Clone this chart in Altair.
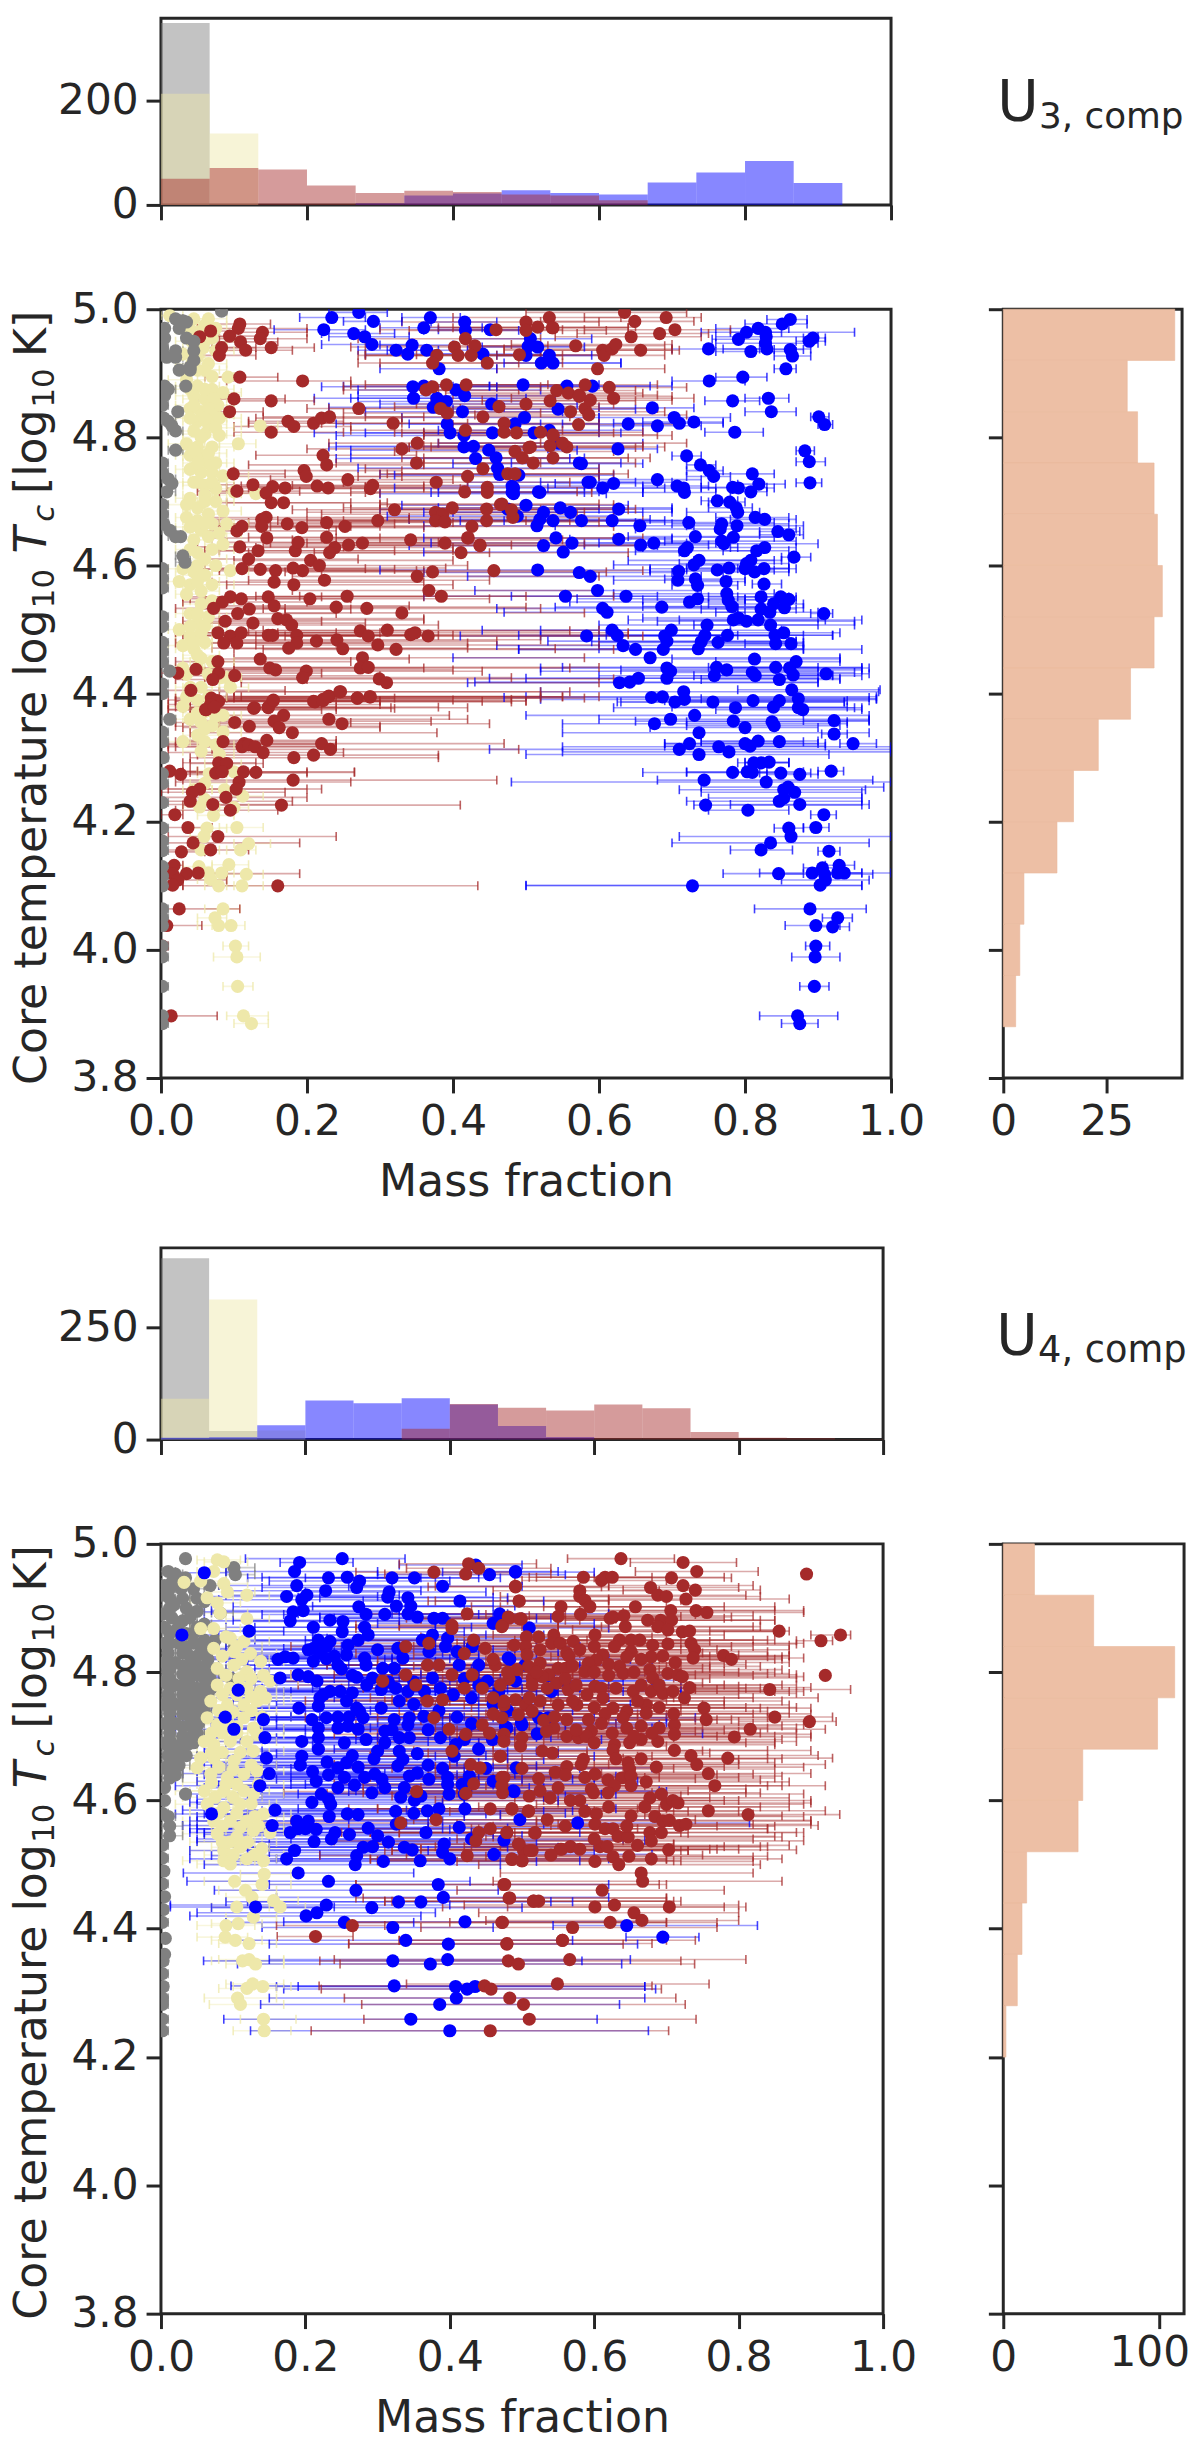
import altair as alt
import pandas as pd

DARK = "#262626"
FONT = "DejaVu Sans"
COLORS = {"gray": "#808080", "yellow": "#eee8aa", "blue": "#0000ff", "brown": "#a52a2a"}
MASS_TICKS = [0.0, 0.2, 0.4, 0.6, 0.8, 1.0]
TEMP_TICKS = [3.8, 4.0, 4.2, 4.4, 4.6, 4.8, 5.0]

# ---------- histogram counts (15 mass bins) ----------
A_HIST_GRAY = [349, 0, 0, 0, 0, 0, 0, 0, 0, 0, 0, 0, 0, 0, 0]
A_HIST_YELLOW = [213, 137, 0, 0, 0, 0, 0, 0, 0, 0, 0, 0, 0, 0, 0]
A_HIST_BROWN = [50, 71, 68, 37, 23, 27, 25, 20, 18, 9, 0, 0, 0, 0, 0]
A_HIST_BLUE = [0, 0, 0, 0, 3, 18, 22, 28, 23, 20, 43, 62, 84, 42, 0]
B_HIST_GRAY = [404, 19, 0, 0, 0, 0, 0, 0, 0, 0, 0, 0, 0, 0, 0]
B_HIST_YELLOW = [91, 312, 20, 0, 0, 0, 0, 0, 0, 0, 0, 0, 0, 0, 0]
B_HIST_BROWN = [0, 0, 0, 0, 0, 24, 79, 71, 65, 78, 70, 17, 4, 3, 1]
B_HIST_BLUE = [4, 5, 32, 87, 81, 92, 78, 30, 6, 0, 0, 0, 0, 0, 0]
# ---------- temperature histograms: bin tops from 5.0 downwards, width 0.08 ----------
A_TEMP_COUNTS = [41.5, 30, 32.5, 36.5, 37.3, 38.5, 36.5, 30.8, 23, 17, 13, 5, 4, 3]
B_TEMP_COUNTS = [20, 58, 110, 99, 51, 48, 15, 12, 9, 1.7]

# ---------- (mass, log T, lower end, upper end) ----------
A_BLUE = [
(.862,4.984,.83,.885),(.851,4.977,.80,.885),(.818,4.97,.76,.86),(.802,4.964,.74,.85),(.828,4.964,.78,.95),(.829,4.957,.76,.90),
(.791,4.953,.755,.83),(.828,4.947,.76,.90),(.83,4.938,.77,.89),(.75,4.938,.70,.82),(.808,4.934,.76,.87),(.862,4.937,.84,.88),
(.865,4.927,.84,.89),(.893,4.955,.88,.91),(.888,4.95,.87,.91),(.856,4.907,.84,.87),(.751,4.888,.70,.80),(.797,4.894,.76,.83),
(.783,4.857,.745,.82),(.832,4.861,.80,.86),(.836,4.84,.80,.87),(.901,4.832,.89,.915),(.909,4.82,.90,.92),(.786,4.808,.745,.825),
(.73,4.824,.66,.77),(.71,4.822,.62,.77),(.703,4.831,.60,.78),(.68,4.818,.60,.74),(.64,4.821,.55,.71),(.673,4.846,.60,.73),
(.626,4.782,.53,.68),(.72,4.771,.70,.74),(.882,4.779,.87,.895),(.888,4.762,.87,.91),(.889,4.729,.87,.905),(.739,4.757,.72,.76),
(.751,4.748,.72,.77),(.757,4.739,.72,.78),(.81,4.743,.76,.84),(.819,4.727,.79,.855),(.68,4.734,.60,.74),(.707,4.724,.66,.75),
(.716,4.721,.66,.76),(.717,4.714,.66,.76),(.783,4.722,.74,.83),(.791,4.721,.74,.84),(.808,4.715,.78,.83),(.62,4.728,.54,.68),
(.605,4.721,.53,.69),(.585,4.73,.52,.65),(.517,4.715,.42,.60),(.481,4.724,.38,.58),(.481,4.714,.38,.58),(.573,4.76,.48,.63),
(.234,4.987,.19,.28),(.271,4.995,.23,.31),(.291,4.981,.25,.33),(.223,4.968,.155,.28),(.264,4.962,.22,.32),(.279,4.957,.23,.34),
(.289,4.945,.22,.35),(.322,4.936,.27,.38),(.338,4.93,.28,.40),(.344,4.944,.30,.40),(.364,4.936,.31,.42),(.369,4.987,.33,.41),
(.36,4.971,.30,.44),(.416,4.98,.37,.46),(.417,4.967,.36,.49),(.451,4.968,.38,.52),(.381,4.907,.30,.46),(.441,4.93,.37,.52),
(.506,4.954,.42,.59),(.503,4.942,.43,.57),(.516,4.941,.44,.58),(.5,4.928,.43,.59),(.521,4.916,.44,.63),(.532,4.928,.46,.61),
(.537,4.916,.47,.63),(.345,4.879,.22,.46),(.346,4.861,.21,.46),(.36,4.88,.25,.45),(.378,4.861,.26,.50),(.391,4.856,.27,.50),
(.373,4.847,.23,.47),(.404,4.874,.27,.52),(.416,4.865,.27,.54),(.413,4.84,.28,.55),(.496,4.882,.37,.60),(.556,4.88,.40,.67),
(.591,4.88,.45,.70),(.453,4.852,.30,.57),(.544,4.844,.40,.65),(.498,4.831,.33,.60),(.485,4.821,.34,.60),(.392,4.821,.24,.52),
(.396,4.807,.21,.51),(.454,4.807,.28,.60),(.511,4.807,.36,.63),(.532,4.811,.38,.66),(.415,4.803,.24,.54),(.415,4.785,.23,.55),
(.428,4.786,.24,.55),(.449,4.78,.26,.57),(.459,4.768,.26,.58),(.431,4.767,.24,.56),(.461,4.752,.27,.60),(.464,4.742,.30,.60),
(.49,4.741,.32,.62),(.545,4.791,.38,.66),(.576,4.759,.40,.66),(.588,4.73,.42,.70),(.483,4.721,.32,.60),(.483,4.712,.30,.61),
(.519,4.714,.37,.66),(.5,4.694,.33,.64),(.475,4.688,.30,.60),(.488,4.677,.31,.62),(.524,4.683,.36,.66),(.515,4.662,.36,.66),
(.519,4.672,.34,.67),(.537,4.67,.37,.69),(.547,4.69,.38,.70),(.561,4.683,.40,.70),(.576,4.67,.41,.72),(.541,4.643,.36,.70),
(.524,4.631,.34,.68),(.563,4.635,.37,.72),(.551,4.621,.36,.71),(.516,4.593,.30,.67),(.573,4.589,.36,.70),(.588,4.583,.42,.74),
(.598,4.561,.43,.74),(.637,4.552,.48,.78),(.554,4.552,.36,.68),(.605,4.533,.46,.79),(.611,4.527,.47,.80),(.686,4.535,.54,.86),
(.724,4.543,.56,.80),(.735,4.548,.57,.80),(.775,4.556,.62,.84),(.777,4.546,.66,.82),(.782,4.536,.66,.86),(.822,4.551,.75,.86),
(.849,4.551,.79,.87),(.86,4.547,.80,.87),(.839,4.54,.75,.88),(.854,4.534,.79,.88),(.822,4.532,.74,.87),(.834,4.527,.76,.90),
(.908,4.525,.89,.92),(.784,4.515,.64,.96),(.791,4.518,.66,.90),(.802,4.513,.68,.95),(.818,4.515,.71,.91),(.835,4.507,.73,.95),
(.748,4.507,.60,.90),(.618,4.499,.44,.78),(.625,4.491,.49,.79),(.583,4.49,.41,.75),(.699,4.499,.52,.85),(.69,4.49,.52,.86),
(.693,4.482,.53,.87),(.745,4.491,.60,.88),(.74,4.481,.59,.87),(.736,4.47,.60,.88),(.776,4.491,.61,.92),(.763,4.48,.60,.88),
(.853,4.495,.78,.93),(.841,4.491,.74,.92),(.842,4.478,.74,.88),(.863,4.478,.80,.87),(.633,4.475,.46,.88),(.65,4.469,.49,.96),
(.688,4.469,.49,.88),(.67,4.456,.40,.93),(.693,4.44,.52,.96),(.698,4.435,.52,.90),(.693,4.424,.50,.93),(.628,4.417,.42,.90),
(.642,4.418,.43,.90),(.654,4.424,.45,.90),(.761,4.441,.55,.96),(.775,4.437,.63,.96),(.758,4.428,.60,.92),(.813,4.454,.70,.93),
(.81,4.433,.70,.95),(.814,4.428,.73,.96),(.842,4.441,.75,.90),(.847,4.422,.74,.93),(.861,4.44,.76,.97),(.87,4.45,.76,.93),
(.866,4.429,.76,.92),(.911,4.431,.87,.97),(.864,4.406,.79,.985),(.716,4.403,.52,.983),(.672,4.394,.47,.97),(.687,4.395,.50,.98),
(.717,4.391,.52,.98),(.704,4.387,.63,.936),(.756,4.387,.625,.936),(.811,4.389,.69,.97),(.847,4.389,.70,.94),(.839,4.379,.70,.94),
(.873,4.392,.74,.98),(.873,4.378,.78,.96),(.879,4.375,.76,.96),(.787,4.378,.62,.95),(.731,4.366,.50,.97),(.698,4.36,.60,.97),
(.676,4.353,.55,.94),(.784,4.357,.65,.97),(.80,4.347,.67,.90),(.837,4.356,.72,.94),(.84,4.35,.72,.93),(.922,4.358,.88,.97),
(.737,4.339,.55,.97),(.922,4.337,.905,.94),(.724,4.322,.69,.91),(.71,4.313,.45,1.0),(.764,4.317,.55,1.0),(.778,4.309,.55,1.0),
(.737,4.305,.50,.915),(.80,4.322,.69,.90),(.818,4.326,.74,.90),(.807,4.318,.69,.91),(.847,4.325,.74,.88),(.948,4.322,.93,.98),
(.812,4.292,.79,.86),(.822,4.292,.80,.86),(.833,4.293,.80,.86),(.783,4.277,.66,.85),(.803,4.278,.72,.88),(.81,4.277,.72,.83),
(.849,4.276,.82,.89),(.875,4.274,.83,.90),(.918,4.279,.90,.935),(.744,4.265,.68,.975),(.829,4.262,.48,1.0),(.853,4.25,.71,.965),
(.859,4.254,.74,.99),(.868,4.246,.74,.96),(.853,4.237,.75,.96),(.847,4.232,.72,.96),(.746,4.226,.73,.96),(.804,4.218,.75,.86),
(.875,4.227,.78,.97),(.908,4.211,.89,.925),(.86,4.19,.84,.88),(.897,4.191,.88,.915),(.863,4.177,.71,1.0),(.835,4.167,.70,.97),
(.822,4.156,.78,.865),(.915,4.154,.90,.93),(.846,4.119,.77,.88),(.892,4.12,.82,.96),(.906,4.128,.88,.93),(.929,4.132,.91,.95),
(.936,4.12,.92,1.0),(.927,4.12,.89,.96),(.909,4.118,.85,.975),(.91,4.109,.85,.97),(.903,4.101,.50,.96),(.728,4.1,.50,.96),
(.889,4.064,.813,.966),(.927,4.05,.906,.947),(.897,4.038,.855,.93),(.92,4.036,.90,.943),(.897,4.006,.883,.916),(.896,3.989,.864,.93),
(.895,3.943,.875,.915),(.872,3.897,.82,.927),(.875,3.885,.85,.90),
(.762,4.701,.74,.79),(.779,4.699,.75,.80),(.788,4.69,.75,.81),(.79,4.683,.72,.82),(.627,4.688,.55,.70),(.618,4.67,.47,.72),
(.656,4.662,.54,.73),(.723,4.667,.65,.84),(.768,4.665,.70,.86),(.766,4.657,.65,.87),(.789,4.662,.72,.88),(.814,4.675,.76,.86),
(.827,4.672,.78,.87),(.845,4.653,.82,.875),(.86,4.648,.82,.88),(.732,4.645,.64,.86),(.768,4.638,.69,.87),(.784,4.644,.73,.84),
(.771,4.634,.66,.90),(.627,4.641,.56,.70),(.657,4.632,.58,.75),(.675,4.635,.60,.76),(.717,4.623,.65,.81),(.721,4.628,.66,.79),
(.816,4.623,.77,.86),(.827,4.628,.78,.87),(.867,4.613,.85,.89),(.808,4.608,.73,.85),(.802,4.603,.71,.86),(.80,4.595,.67,.87),
(.737,4.608,.64,.84),(.73,4.601,.62,.80),(.709,4.591,.67,.76),(.762,4.593,.72,.84),(.778,4.596,.72,.86),(.826,4.595,.79,.86),
(.813,4.59,.77,.86),(.708,4.577,.62,.78),(.732,4.579,.69,.80),(.735,4.569,.70,.79),(.774,4.575,.73,.80),(.826,4.571,.81,.85),
]
A_BROWN = [
(.108,4.977,.07,.15),(.106,4.97,.05,.20),(.139,4.964,.10,.20),(.136,4.954,.08,.20),(.094,4.958,.05,.14),(.109,4.949,.07,.16),
(.116,4.936,.07,.18),(.151,4.94,.08,.21),(.083,4.94,.05,.13),(.08,4.928,.04,.13),(.068,4.966,.04,.10),(.053,4.957,.03,.09),
(.108,4.894,.06,.16),(.194,4.888,.09,.26),(.10,4.86,.05,.17),(.151,4.857,.10,.21),(.094,4.84,.05,.14),(.174,4.825,.12,.25),
(.182,4.817,.10,.26),(.209,4.822,.12,.33),(.22,4.83,.13,.33),(.231,4.832,.14,.36),(.151,4.808,.10,.25),(.271,4.845,.20,.38),
(.318,4.822,.22,.42),(.222,4.772,.13,.35),(.227,4.757,.12,.36),(.196,4.748,.10,.33),(.199,4.739,.08,.33),(.256,4.734,.15,.40),
(.214,4.724,.11,.36),(.229,4.721,.12,.36),(.29,4.725,.18,.42),(.287,4.72,.17,.41),(.377,4.73,.25,.56),(.42,4.739,.27,.60),
(.441,4.751,.28,.60),(.35,4.76,.24,.52),(.33,4.782,.20,.50),(.351,4.791,.23,.52),(.099,4.743,.05,.17),(.126,4.726,.06,.21),
(.104,4.716,.05,.19),(.153,4.723,.10,.28),(.17,4.721,.09,.29),(.144,4.713,.08,.30),(.151,4.698,.08,.26),(.168,4.698,.09,.31),
(.144,4.675,.07,.34),(.138,4.672,.06,.34),(.138,4.661,.06,.30),(.173,4.665,.08,.32),(.193,4.659,.10,.36),(.227,4.667,.12,.40),
(.252,4.661,.15,.42),(.297,4.67,.16,.50),(.32,4.687,.18,.52),(.376,4.683,.20,.58),(.386,4.68,.22,.57),(.399,4.69,.25,.62),
(.376,4.67,.20,.56),(.389,4.668,.22,.60),(.446,4.688,.26,.65),(.446,4.67,.25,.66),(.426,4.661,.23,.62),(.342,4.64,.18,.55),
(.389,4.635,.20,.58),(.421,4.643,.22,.62),(.437,4.632,.24,.66),(.411,4.62,.21,.64),(.104,4.654,.05,.24),(.111,4.661,.04,.26),
(.145,4.643,.07,.30),(.108,4.629,.05,.25),(.133,4.623,.06,.32),(.184,4.623,.08,.40),(.188,4.636,.09,.38),(.227,4.644,.12,.42),
(.238,4.628,.13,.40),(.231,4.62,.12,.45),(.257,4.632,.14,.48),(.276,4.635,.15,.52),(.12,4.61,.06,.27),(.111,4.595,.05,.28),
(.136,4.594,.06,.32),(.205,4.608,.10,.40),(.217,4.60,.12,.42),(.157,4.592,.08,.35),(.181,4.596,.08,.39),(.194,4.592,.09,.36),
(.155,4.574,.07,.36),(.182,4.57,.09,.40),(.224,4.577,.12,.45),(.351,4.583,.18,.60),(.372,4.59,.17,.61),(.456,4.592,.22,.66),
(.367,4.561,.18,.60),(.384,4.552,.19,.62),(.255,4.552,.13,.50),(.204,4.548,.09,.45),(.147,4.551,.06,.36),(.155,4.537,.08,.34),
(.24,4.535,.12,.50),(.282,4.533,.14,.52),(.33,4.526,.17,.58),(.095,4.551,.03,.22),(.11,4.548,.04,.26),(.084,4.543,.03,.20),
(.072,4.533,.02,.17),(.105,4.525,.04,.24),(.121,4.532,.05,.26),(.088,4.513,.03,.22),(.126,4.51,.05,.28),(.16,4.517,.07,.36),
(.172,4.515,.08,.36),(.179,4.507,.08,.38),(.078,4.495,.02,.24),(.095,4.49,.03,.28),(.11,4.495,.04,.30),(.086,4.479,.02,.24),
(.104,4.479,.04,.30),(.147,4.491,.05,.36),(.153,4.491,.06,.38),(.186,4.491,.08,.40),(.186,4.479,.08,.42),(.175,4.471,.07,.42),
(.213,4.482,.09,.46),(.241,4.484,.10,.52),(.249,4.47,.10,.54),(.273,4.498,.12,.56),(.284,4.49,.13,.58),(.297,4.476,.13,.60),
(.322,4.469,.14,.62),(.31,4.499,.14,.60),(.342,4.492,.16,.64),(.348,4.495,.16,.64),(.366,4.49,.17,.66),(.276,4.456,.10,.58),
(.273,4.44,.10,.56),(.284,4.441,.10,.60),(.136,4.454,.05,.34),(.149,4.44,.05,.36),(.157,4.437,.05,.40),(.199,4.435,.06,.44),
(.194,4.425,.06,.48),(.299,4.423,.11,.62),(.309,4.417,.11,.60),(.078,4.45,.02,.26),(.079,4.432,.02,.22),(.071,4.422,.02,.20),
(.101,4.428,.03,.30),(.048,4.438,.01,.15),(.023,4.432,.00,.10),(.041,4.405,.00,.17),(.246,4.403,.08,.56),(.23,4.396,.07,.52),
(.269,4.393,.09,.58),(.286,4.395,.10,.60),(.153,4.388,.04,.44),(.147,4.378,.04,.42),(.209,4.388,.06,.50),(.222,4.391,.07,.48),
(.07,4.39,.01,.24),(.079,4.388,.02,.30),(.062,4.375,.01,.22),(.127,4.377,.03,.32),(.069,4.393,.02,.32),(.077,4.389,.02,.30),
(.068,4.383,.01,.30),(.061,4.375,.01,.24),(.073,4.379,.02,.24),(.128,4.378,.03,.315),(.147,4.379,.05,.38),(.154,4.39,.05,.40),
(.211,4.387,.07,.48),(.222,4.389,.08,.50),(.229,4.395,.09,.55),(.245,4.403,.10,.52),(.269,4.393,.10,.52),(.287,4.395,.11,.55),
(.168,4.366,.04,.395),(.155,4.357,.04,.37),(.162,4.347,.03,.30),(.101,4.355,.02,.26),(.121,4.349,.02,.30),(.18,4.339,.04,.378),
(.23,4.36,.07,.42),(.248,4.353,.08,.45),(.085,4.325,.02,.22),(.114,4.322,.01,.24),(.111,4.317,.02,.24),(.12,4.32,.01,.24),
(.129,4.317,.01,.24),(.14,4.308,.01,.25),(.145,4.327,.03,.24),(.22,4.322,.06,.47),(.232,4.313,.07,.49),(.209,4.304,.05,.38),
(.182,4.30,.04,.38),(.079,4.292,.03,.13),(.09,4.291,.04,.14),(.012,4.279,.00,.05),(.027,4.274,.00,.07),(.075,4.276,.03,.20),
(.084,4.278,.03,.20),(.113,4.278,.03,.265),(.13,4.277,.04,.265),(.181,4.265,.03,.46),(.107,4.262,.02,.26),(.103,4.251,.01,.22),
(.053,4.251,.00,.20),(.043,4.246,.00,.17),(.04,4.232,.00,.18),(.089,4.238,.00,.20),(.071,4.227,.00,.17),(.095,4.218,.02,.16),
(.165,4.226,.03,.41),(.019,4.211,.00,.03),(.037,4.191,.00,.07),(.078,4.177,.01,.24),(.044,4.167,.00,.19),(.068,4.156,.00,.12),
(.028,4.153,.00,.06),(.018,4.132,.00,.03),(.016,4.119,.00,.04),(.035,4.119,.00,.19),(.051,4.12,.00,.09),(.023,4.109,.00,.09),
(.016,4.101,.00,.03),(.16,4.10,.03,.434),(.025,4.064,.00,.108),(.008,4.038,.00,.056),(.014,3.897,.00,.077),(.002,4.006,.00,.01),
(.459,4.968,.30,.55),(.50,4.98,.33,.60),(.50,4.967,.34,.61),(.516,4.972,.36,.65),(.532,4.987,.40,.63),(.537,4.971,.38,.64),
(.417,4.954,.27,.52),(.402,4.941,.26,.50),(.43,4.943,.28,.53),(.407,4.928,.28,.52),(.425,4.928,.27,.55),(.378,4.928,.28,.50),
(.372,4.916,.27,.49),(.447,4.916,.30,.55),(.491,4.929,.35,.60),(.568,4.943,.42,.69),(.363,4.874,.25,.49),(.372,4.879,.25,.52),
(.391,4.882,.26,.53),(.418,4.882,.28,.56),(.542,4.873,.38,.65),(.558,4.869,.39,.66),(.573,4.866,.40,.68),(.581,4.882,.42,.68),
(.50,4.852,.35,.62),(.463,4.848,.32,.60),(.533,4.857,.37,.65),(.383,4.845,.23,.50),(.392,4.838,.25,.52),(.441,4.832,.28,.56),
(.561,4.84,.40,.69),(.581,4.845,.41,.68),(.586,4.835,.43,.72),(.47,4.822,.32,.60),(.417,4.811,.26,.55),(.47,4.808,.32,.60),
(.487,4.807,.33,.62),(.52,4.808,.36,.66),(.537,4.804,.36,.68),(.572,4.82,.40,.71),(.506,4.785,.34,.66),(.533,4.787,.36,.66),
(.556,4.785,.37,.69),(.485,4.778,.32,.62),(.495,4.768,.33,.64),(.537,4.768,.36,.67),(.51,4.76,.36,.65),(.475,4.743,.30,.62),
(.485,4.743,.31,.64),(.416,4.715,.26,.57),(.447,4.722,.28,.59),(.447,4.714,.28,.59),(.467,4.696,.30,.60),(.482,4.675,.30,.62),
(.635,4.995,.50,.72),(.649,4.981,.52,.73),(.692,4.987,.58,.74),(.704,4.968,.58,.78),(.644,4.957,.54,.74),(.683,4.962,.57,.75),
(.536,4.971,.40,.64),(.605,4.936,.47,.70),(.607,4.928,.46,.69),(.618,4.938,.47,.70),(.623,4.945,.48,.70),(.657,4.936,.52,.71),
(.598,4.907,.46,.69),(.614,4.878,.46,.72),(.62,4.861,.48,.73),(.588,4.858,.44,.70),(.573,4.864,.42,.70),(.537,4.803,.36,.70),
(.55,4.791,.38,.72),(.504,4.784,.34,.65),(.42,4.643,.24,.66),(.437,4.631,.24,.66),(.465,4.695,.30,.62),(.48,4.687,.30,.64),
]
A_YELLOW = [
(.012,4.99,.00,.03),(.045,4.985,.02,.07),(.06,4.975,.03,.09),(.052,4.965,.03,.08),(.07,4.955,.04,.10),(.042,4.95,.02,.07),
(.058,4.94,.03,.09),(.03,4.93,.01,.06),(.05,4.925,.02,.08),(.065,4.915,.04,.09),(.06,4.905,.03,.09),(.092,4.894,.07,.11),
(.035,4.89,.01,.06),(.05,4.88,.02,.08),(.07,4.875,.04,.10),(.085,4.87,.06,.11),(.045,4.865,.02,.08),(.06,4.86,.03,.09),
(.078,4.85,.05,.10),(.04,4.845,.02,.07),(.055,4.84,.03,.08),(.07,4.835,.04,.10),(.08,4.83,.05,.11),(.05,4.825,.03,.08),
(.065,4.82,.04,.09),(.136,4.818,.11,.16),(.045,4.81,.02,.08),(.06,4.805,.03,.09),(.08,4.803,.06,.11),(.106,4.79,.08,.13),
(.035,4.79,.01,.06),(.05,4.785,.03,.08),(.07,4.785,.04,.10),(.04,4.772,.02,.07),(.055,4.77,.03,.08),(.065,4.76,.04,.09),
(.04,4.75,.02,.07),(.055,4.745,.03,.08),(.07,4.745,.04,.10),(.085,4.74,.05,.12),(.045,4.73,.02,.08),(.06,4.725,.03,.09),
(.075,4.72,.05,.10),(.10,4.715,.07,.13),(.06,4.71,.03,.09),(.13,4.712,.11,.15),(.035,4.695,.01,.06),(.05,4.69,.03,.08),
(.065,4.68,.04,.09),(.085,4.685,.06,.11),(.035,4.675,.02,.06),(.05,4.67,.03,.08),(.07,4.665,.04,.10),(.09,4.665,.07,.12),
(.055,4.655,.03,.08),(.065,4.645,.04,.09),(.045,4.64,.02,.07),(.085,4.633,.06,.11),(.05,4.62,.03,.08),(.06,4.61,.03,.09),
(.03,4.595,.01,.06),(.045,4.59,.02,.07),(.06,4.585,.03,.09),(.095,4.592,.07,.12),(.025,4.575,.01,.05),(.04,4.57,.02,.07),
(.055,4.56,.03,.08),(.035,4.555,.02,.06),(.055,4.54,.03,.08),(.07,4.545,.04,.10),(.04,4.525,.02,.07),(.05,4.51,.03,.08),
(.065,4.52,.04,.09),(.025,4.5,.01,.05),(.04,4.49,.02,.07),(.055,4.495,.03,.08),(.03,4.475,.01,.06),(.045,4.47,.02,.07),
(.06,4.48,.03,.09),(.055,4.455,.03,.08),(.03,4.44,.01,.06),(.05,4.44,.02,.08),(.065,4.43,.04,.09),(.035,4.43,.02,.06),
(.082,4.425,.06,.11),(.09,4.425,.07,.11),(.095,4.41,.08,.12),(.035,4.395,.02,.06),(.05,4.39,.03,.08),(.03,4.38,.01,.06),
(.06,4.372,.04,.08),(.085,4.366,.06,.11),(.04,4.36,.02,.07),(.055,4.355,.03,.08),(.07,4.35,.04,.10),(.085,4.34,.06,.11),
(.05,4.335,.03,.08),(.03,4.325,.01,.05),(.06,4.325,.04,.09),(.075,4.32,.05,.10),(.055,4.31,.03,.08),(.08,4.305,.06,.10),
(.085,4.29,.06,.11),(.078,4.28,.05,.10),(.10,4.278,.08,.13),(.066,4.275,.05,.09),(.06,4.26,.04,.09),(.045,4.25,.03,.07),
(.087,4.25,.07,.11),(.06,4.235,.04,.09),(.112,4.24,.09,.14),(.053,4.223,.03,.08),(.10,4.222,.08,.12),(.072,4.21,.05,.10),
(.063,4.19,.04,.09),(.104,4.191,.08,.14),(.059,4.177,.04,.08),(.12,4.166,.10,.15),(.055,4.156,.03,.08),(.109,4.156,.09,.13),
(.052,4.13,.03,.07),(.093,4.133,.07,.12),(.065,4.12,.05,.09),(.068,4.11,.05,.09),(.083,4.12,.06,.10),(.117,4.118,.09,.14),
(.079,4.1,.06,.10),(.111,4.10,.09,.14),(.085,4.064,.06,.108),(.074,4.05,.05,.09),(.079,4.038,.05,.10),(.096,4.038,.07,.115),
(.102,4.006,.085,.12),(.104,3.989,.072,.136),(.105,3.943,.085,.126),(.113,3.897,.09,.147),(.124,3.885,.10,.147),
(.065,4.985,.04,.09),(.075,4.97,.05,.10),(.04,4.968,.02,.07),(.06,4.95,.04,.09),(.075,4.935,.05,.10),(.042,4.915,.02,.07),
(.05,4.905,.03,.08),(.07,4.895,.05,.10),(.04,4.875,.02,.07),(.06,4.875,.04,.09),(.072,4.86,.05,.10),(.045,4.85,.02,.07),
(.065,4.845,.04,.09),(.04,4.83,.02,.07),(.06,4.83,.04,.09),(.075,4.815,.05,.10),(.055,4.8,.03,.08),(.045,4.78,.02,.07),
(.065,4.775,.04,.09),(.05,4.76,.03,.08),(.075,4.76,.05,.10),(.05,4.73,.03,.08),(.07,4.73,.04,.10),(.04,4.705,.02,.07),
(.06,4.7,.04,.09),(.075,4.7,.05,.10),(.04,4.66,.02,.07),(.06,4.665,.04,.09),(.08,4.65,.05,.11),(.04,4.625,.02,.07),
(.07,4.625,.04,.10),(.05,4.6,.03,.08),(.075,4.6,.05,.10),(.05,4.575,.03,.08),(.07,4.57,.04,.10),(.05,4.525,.03,.08),
(.04,4.505,.02,.07),(.06,4.505,.04,.09),(.045,4.48,.02,.07),(.05,4.46,.03,.08),(.07,4.45,.04,.10),(.04,4.41,.02,.07),
(.055,4.41,.03,.08),(.065,4.395,.04,.09),(.05,4.37,.03,.08),(.075,4.365,.05,.10),(.06,4.345,.04,.09),
]
A_GRAY = [
(.083,4.997,.08,.09),(.02,4.985,.01,.03),(.03,4.982,.02,.04),(.035,4.98,.03,.04),(.005,4.97,.00,.01),(.025,4.97,.02,.03),
(.005,4.955,.00,.01),(.035,4.955,.03,.04),(.045,4.95,.04,.05),(.002,4.94,.00,.01),(.02,4.935,.01,.03),(.045,4.935,.04,.05),
(.008,4.925,.00,.02),(.02,4.925,.01,.03),(.045,4.92,.04,.05),(.04,4.91,.03,.05),(.025,4.905,.02,.03),(.04,4.905,.03,.05),
(.005,4.88,.00,.01),(.01,4.875,.00,.02),(.034,4.88,.03,.04),(.005,4.865,.00,.01),(.002,4.85,.00,.01),(.023,4.84,.02,.03),
(.004,4.83,.00,.01),(.01,4.825,.00,.02),(.015,4.818,.01,.02),(.02,4.81,.01,.03),(.02,4.78,.01,.03),(.002,4.76,.00,.01),
(.002,4.745,.00,.01),(.01,4.735,.00,.02),(.015,4.728,.01,.02),(.008,4.715,.00,.02),(.002,4.695,.00,.01),(.002,4.68,.00,.01),
(.004,4.665,.00,.01),(.012,4.655,.00,.02),(.02,4.645,.01,.03),(.027,4.645,.02,.03),(.03,4.615,.02,.04),(.033,4.605,.02,.04),
(.002,4.595,.00,.01),(.002,4.58,.00,.01),(.002,4.565,.00,.01),(.002,4.52,.00,.01),(.002,4.505,.00,.01),(.002,4.48,.00,.01),
(.002,4.465,.00,.01),(.002,4.45,.00,.01),(.012,4.435,.00,.02),(.002,4.415,.00,.01),(.002,4.40,.00,.01),(.012,4.36,.00,.02),
(.002,4.34,.00,.01),(.002,4.325,.00,.01),(.003,4.30,.00,.01),(.002,4.275,.00,.01),(.002,4.26,.00,.01),(.002,4.23,.00,.01),
(.002,4.19,.00,.01),(.002,4.17,.00,.01),(.002,4.155,.00,.01),(.002,4.13,.00,.01),(.002,4.115,.00,.01),(.002,4.10,.00,.01),
(.002,4.064,.00,.01),(.002,4.05,.00,.01),(.002,4.038,.00,.01),(.002,4.006,.00,.01),(.002,3.989,.00,.01),(.002,3.943,.00,.01),
(.002,3.897,.00,.01),(.002,3.885,.00,.01),
]
B_BLUE = [
(.192,4.971,.165,.266),(.251,4.977,.117,.338),(.185,4.957,.09,.30),(.06,4.955,.02,.10),(.232,4.947,.12,.36),(.258,4.948,.14,.38),
(.275,4.942,.15,.40),(.271,4.932,.14,.39),(.32,4.947,.20,.44),(.351,4.947,.23,.47),(.188,4.935,.08,.32),(.228,4.927,.09,.36),
(.174,4.918,.06,.30),(.202,4.92,.09,.33),(.195,4.913,.08,.32),(.316,4.925,.20,.45),(.314,4.917,.19,.46),(.342,4.916,.22,.48),
(.326,4.903,.19,.46),(.346,4.903,.21,.49),(.39,4.934,.26,.50),(.414,4.911,.28,.53),(.436,4.967,.33,.50),(.455,4.952,.30,.56),
(.491,4.956,.39,.60),(.274,4.902,.10,.42),(.183,4.894,.06,.33),(.197,4.896,.07,.33),(.179,4.88,.06,.33),(.31,4.89,.17,.46),
(.342,4.891,.19,.48),(.355,4.886,.22,.50),(.234,4.881,.10,.38),(.211,4.87,.09,.38),(.252,4.879,.12,.40),(.284,4.89,.14,.44),
(.282,4.87,.13,.43),(.251,4.863,.12,.42),(.287,4.858,.13,.45),(.378,4.884,.22,.52),(.39,4.884,.24,.54),(.469,4.891,.32,.62),
(.46,4.876,.30,.60),(.51,4.869,.38,.62),(.122,4.864,.08,.17),(.029,4.858,.01,.07),(.218,4.85,.08,.38),(.234,4.848,.10,.38),
(.229,4.84,.09,.40),(.211,4.837,.08,.38),(.204,4.835,.07,.38),(.259,4.842,.11,.42),(.257,4.827,.10,.44),(.245,4.811,.10,.42),
(.273,4.85,.13,.44),(.30,4.835,.14,.46),(.328,4.837,.17,.49),(.362,4.85,.20,.52),(.376,4.858,.21,.53),(.397,4.853,.23,.55),
(.394,4.84,.22,.58),(.371,4.832,.20,.55),(.431,4.84,.25,.60),(.41,4.832,.24,.58),(.481,4.822,.32,.62),(.162,4.82,.06,.32),
(.172,4.824,.06,.33),(.183,4.822,.07,.34),(.211,4.817,.08,.38),(.229,4.821,.09,.40),(.282,4.822,.12,.44),(.284,4.811,.12,.46),
(.307,4.806,.13,.48),(.323,4.806,.15,.50),(.335,4.822,.17,.52),(.413,4.811,.23,.58),(.44,4.811,.26,.62),(.504,4.811,.33,.68),
(.165,4.791,.05,.33),(.19,4.796,.06,.36),(.204,4.793,.07,.37),(.216,4.786,.08,.38),(.271,4.792,.10,.44),(.234,4.77,.08,.40),
(.248,4.77,.09,.42),(.257,4.755,.10,.44),(.293,4.791,.12,.47),(.305,4.773,.13,.48),(.33,4.755,.15,.50),(.342,4.77,.17,.52),
(.376,4.791,.20,.56),(.387,4.775,.21,.58),(.452,4.786,.28,.64),(.468,4.77,.30,.64),(.491,4.786,.31,.68),(.541,4.77,.38,.72),
(.107,4.772,.03,.22),(.191,4.744,.06,.36),(.218,4.747,.07,.39),(.142,4.726,.03,.28),(.089,4.73,.02,.18),(.101,4.711,.02,.20),
(.209,4.726,.07,.39),(.229,4.729,.08,.40),(.271,4.744,.10,.44),(.28,4.729,.11,.46),(.275,4.739,.10,.46),(.305,4.744,.12,.50),
(.323,4.726,.14,.50),(.344,4.729,.16,.53),(.364,4.731,.18,.55),(.50,4.718,.32,.69),(.523,4.729,.35,.70),(.536,4.729,.37,.74),
(.144,4.698,.03,.30),(.195,4.692,.05,.37),(.218,4.713,.07,.39),(.218,4.698,.07,.40),(.218,4.68,.06,.40),(.245,4.713,.09,.43),
(.259,4.716,.10,.44),(.273,4.711,.10,.45),(.254,4.69,.09,.44),(.284,4.695,.11,.47),(.31,4.708,.13,.49),(.31,4.69,.12,.50),
(.30,4.677,.11,.48),(.33,4.698,.15,.52),(.342,4.718,.16,.52),(.344,4.698,.16,.54),(.387,4.698,.20,.58),(.408,4.687,.21,.60),
(.459,4.695,.27,.65),(.479,4.713,.29,.68),(.146,4.666,.03,.30),(.195,4.669,.05,.38),(.193,4.655,.05,.37),(.245,4.651,.07,.42),
(.257,4.659,.08,.44),(.273,4.652,.09,.46),(.33,4.677,.14,.52),(.335,4.664,.14,.53),(.328,4.654,.13,.52),(.355,4.673,.16,.55),
(.406,4.669,.20,.60),(.492,4.651,.28,.68),(.15,4.642,.03,.31),(.137,4.623,.02,.30),(.232,4.64,.06,.41),(.215,4.63,.05,.39),
(.245,4.62,.06,.43),(.254,4.636,.07,.44),(.268,4.624,.08,.46),(.282,4.636,.09,.47),(.296,4.641,.10,.49),(.306,4.633,.11,.50),
(.292,4.612,.09,.48),(.337,4.62,.13,.53),(.344,4.638,.14,.54),(.355,4.643,.15,.55),(.371,4.633,.16,.57),(.397,4.636,.18,.60),
(.397,4.625,.18,.60),(.417,4.625,.20,.62),(.427,4.638,.21,.63),(.488,4.615,.27,.69),(.222,4.61,.04,.40),(.232,4.602,.05,.42),
(.209,4.597,.04,.39),(.235,4.594,.05,.42),(.332,4.605,.12,.53),(.351,4.60,.13,.55),(.36,4.607,.14,.56),(.399,4.61,.17,.61),
(.158,4.585,.03,.34),(.07,4.579,.02,.13),(.233,4.575,.05,.42),(.258,4.579,.06,.45),(.273,4.578,.07,.47),(.325,4.583,.11,.53),
(.369,4.584,.14,.57),(.385,4.587,.16,.59),(.421,4.587,.19,.63),(.497,4.57,.26,.70),(.577,4.565,.34,.815),(.154,4.561,.03,.33),
(.188,4.568,.04,.37),(.204,4.568,.05,.39),(.19,4.556,.04,.37),(.179,4.55,.04,.36),(.20,4.556,.05,.39),(.287,4.557,.08,.48),
(.326,4.563,.11,.53),(.241,4.55,.06,.43),(.236,4.54,.05,.43),(.261,4.547,.06,.46),(.367,4.55,.13,.58),(.413,4.558,.17,.62),
(.475,4.538,.24,.67),(.212,4.536,.05,.40),(.185,4.522,.04,.37),(.174,4.509,.04,.36),(.28,4.527,.08,.48),(.293,4.528,.09,.50),
(.271,4.514,.07,.47),(.269,4.50,.06,.47),(.308,4.505,.09,.52),(.337,4.527,.11,.55),(.348,4.523,.12,.56),(.359,4.506,.12,.58),
(.392,4.532,.15,.60),(.39,4.519,.15,.60),(.40,4.509,.16,.62),(.461,4.516,.22,.68),(.19,4.487,.031,.35),(.232,4.474,.036,.428),
(.384,4.469,.15,.62),(.27,4.46,.074,.467),(.391,4.449,.16,.62),(.329,4.442,.09,.54),(.36,4.442,.12,.57),(.292,4.433,.07,.50),
(.229,4.437,.013,.40),(.216,4.425,.05,.38),(.201,4.42,.04,.36),(.254,4.41,.09,.35),(.421,4.411,.17,.67),(.321,4.402,.14,.46),
(.131,4.434,.013,.24),(.339,4.382,.10,.57),(.398,4.376,.15,.66),(.321,4.35,.059,.583),(.373,4.345,.106,.638),(.397,4.352,.15,.65),
(.323,4.311,.097,.55),(.408,4.31,.16,.67),(.424,4.306,.17,.685),(.435,4.31,.19,.67),(.409,4.292,.15,.67),(.386,4.282,.138,.635),
(.346,4.259,.087,.604),(.40,4.241,.124,.675),(.491,4.957,.44,.55),(.521,4.704,.34,.75),(.499,4.721,.30,.70),(.477,4.715,.28,.66),
(.645,4.405,.543,.826),(.695,4.387,.644,.745),(.54,4.771,.38,.72),(.559,4.787,.40,.72),(.537,4.795,.38,.70),(.483,4.82,.31,.65),
(.489,4.614,.26,.70),
(.22,4.83,.08,.39),(.24,4.825,.10,.41),(.25,4.805,.09,.43),(.265,4.795,.10,.44),(.225,4.765,.08,.40),(.265,4.768,.10,.44),
(.22,4.76,.07,.39),(.285,4.78,.11,.46),(.315,4.785,.13,.49),(.325,4.775,.14,.50),(.35,4.785,.16,.53),(.365,4.77,.18,.55),
(.42,4.79,.24,.60),(.44,4.78,.26,.62),(.405,4.765,.22,.59),(.43,4.76,.24,.62),(.46,4.75,.27,.65),(.48,4.74,.29,.67),
(.35,4.75,.16,.53),(.385,4.74,.20,.57),(.41,4.73,.22,.60),(.43,4.72,.24,.63),(.26,4.73,.09,.44),(.245,4.73,.08,.42),
(.32,4.71,.13,.50),(.37,4.71,.17,.56),(.42,4.695,.22,.61),(.44,4.68,.24,.63),(.23,4.66,.06,.41),(.265,4.67,.08,.45),
(.295,4.665,.10,.48),(.37,4.655,.16,.56),(.39,4.65,.18,.58),(.45,4.65,.24,.65),(.46,4.63,.25,.66),(.21,4.645,.05,.39),
(.31,4.62,.09,.51),(.42,4.61,.19,.63),(.35,4.58,.12,.56),(.215,4.555,.05,.40),(.30,4.545,.08,.50),(.315,4.535,.09,.52),
(.43,4.54,.18,.64),
]
B_BROWN = [
(.637,4.977,.563,.711),(.723,4.971,.65,.797),(.742,4.957,.657,.827),(.894,4.953,.89,.90),(.585,4.948,.49,.68),(.61,4.943,.50,.70),
(.615,4.948,.51,.71),(.625,4.948,.52,.78),(.707,4.947,.60,.79),(.491,4.934,.38,.62),(.723,4.935,.62,.82),(.74,4.928,.64,.83),
(.678,4.932,.58,.80),(.58,4.927,.46,.69),(.58,4.918,.47,.70),(.587,4.912,.48,.72),(.594,4.902,.47,.78),(.688,4.92,.58,.81),
(.70,4.918,.58,.83),(.727,4.914,.62,.87),(.496,4.911,.38,.62),(.554,4.902,.43,.70),(.657,4.902,.53,.85),(.741,4.896,.62,.89),
(.756,4.893,.64,.89),(.706,4.896,.58,.85),(.482,4.884,.34,.63),(.499,4.883,.36,.64),(.473,4.873,.33,.62),(.55,4.887,.42,.72),
(.581,4.89,.45,.74),(.622,4.884,.49,.78),(.626,4.886,.50,.79),(.641,4.888,.51,.82),(.674,4.881,.55,.83),(.692,4.881,.56,.85),
(.707,4.881,.58,.85),(.688,4.871,.55,.83),(.702,4.866,.57,.86),(.643,4.871,.50,.82),(.722,4.863,.60,.85),(.732,4.864,.60,.86),
(.856,4.864,.76,.87),(.941,4.858,.90,.955),(.914,4.849,.88,.93),(.601,4.858,.46,.78),(.523,4.855,.38,.70),(.506,4.855,.36,.68),
(.544,4.858,.40,.72),(.541,4.845,.39,.72),(.553,4.845,.41,.74),(.571,4.848,.42,.76),(.562,4.83,.41,.75),(.635,4.85,.49,.82),
(.651,4.85,.51,.84),(.663,4.85,.52,.85),(.681,4.842,.54,.87),(.702,4.844,.56,.88),(.628,4.84,.48,.82),(.651,4.832,.50,.84),
(.645,4.824,.49,.84),(.734,4.845,.60,.89),(.739,4.835,.60,.87),(.737,4.822,.60,.89),(.779,4.826,.66,.87),(.79,4.82,.69,.85),
(.505,4.84,.35,.70),(.507,4.827,.35,.70),(.489,4.842,.33,.68),(.612,4.827,.46,.80),(.603,4.819,.45,.79),(.592,4.814,.44,.78),
(.712,4.815,.57,.87),(.679,4.824,.54,.86),(.635,4.809,.48,.83),(.64,4.798,.48,.84),(.587,4.801,.43,.78),(.509,4.809,.35,.70),
(.525,4.814,.37,.72),(.493,4.804,.33,.69),(.55,4.806,.39,.75),(.537,4.796,.38,.74),(.56,4.806,.41,.76),(.677,4.804,.53,.86),
(.681,4.791,.53,.88),(.702,4.798,.56,.87),(.716,4.796,.57,.88),(.722,4.793,.58,.89),(.92,4.795,.915,.925),(.514,4.791,.36,.71),
(.514,4.78,.35,.72),(.528,4.793,.37,.72),(.482,4.79,.32,.68),(.548,4.783,.38,.75),(.564,4.773,.40,.77),(.601,4.778,.44,.80),
(.61,4.775,.45,.81),(.612,4.76,.45,.82),(.654,4.77,.50,.85),(.679,4.77,.52,.87),(.732,4.776,.60,.90),(.695,4.767,.55,.88),
(.709,4.77,.56,.89),(.725,4.76,.58,.91),(.843,4.773,.74,.955),(.491,4.757,.32,.70),(.505,4.749,.33,.72),(.525,4.755,.36,.73),
(.475,4.749,.30,.68),(.55,4.749,.38,.75),(.576,4.749,.42,.78),(.626,4.744,.47,.83),(.672,4.749,.52,.87),(.645,4.739,.49,.84),
(.64,4.729,.48,.84),(.672,4.736,.52,.87),(.752,4.744,.62,.90),(.85,4.73,.75,.93),(.898,4.723,.80,.935),(.755,4.726,.62,.90),
(.495,4.734,.33,.70),(.514,4.739,.35,.72),(.562,4.726,.40,.77),(.592,4.726,.43,.79),(.665,4.716,.51,.86),(.645,4.713,.49,.84),
(.69,4.713,.53,.88),(.711,4.718,.56,.89),(.711,4.703,.55,.90),(.816,4.711,.69,.92),(.794,4.699,.65,.90),(.544,4.713,.38,.75),
(.534,4.708,.37,.74),(.596,4.708,.43,.80),(.562,4.70,.39,.77),(.578,4.698,.41,.79),(.589,4.70,.42,.80),(.50,4.698,.33,.71),
(.498,4.685,.33,.70),(.475,4.703,.30,.68),(.628,4.687,.46,.85),(.626,4.678,.46,.84),(.649,4.69,.49,.85),(.665,4.695,.50,.86),
(.688,4.692,.53,.88),(.711,4.678,.55,.90),(.528,4.677,.35,.75),(.542,4.674,.37,.76),(.47,4.669,.29,.68),(.585,4.664,.41,.80),
(.582,4.656,.40,.80),(.562,4.653,.38,.78),(.546,4.644,.37,.76),(.647,4.659,.48,.85),(.649,4.649,.48,.85),(.686,4.652,.52,.89),
(.734,4.67,.59,.91),(.742,4.656,.60,.92),(.785,4.666,.64,.93),(.758,4.642,.61,.90),(.475,4.636,.29,.69),(.523,4.634,.34,.74),
(.587,4.636,.41,.80),(.601,4.641,.42,.82),(.619,4.632,.44,.83),(.638,4.635,.46,.85),(.651,4.638,.47,.86),(.672,4.629,.50,.87),
(.767,4.623,.62,.92),(.651,4.623,.48,.86),(.628,4.623,.45,.84),(.596,4.618,.41,.81),(.599,4.612,.41,.81),(.619,4.612,.43,.83),
(.473,4.612,.28,.68),(.525,4.615,.33,.73),(.51,4.607,.32,.72),(.539,4.604,.35,.76),(.567,4.60,.38,.78),(.677,4.604,.49,.87),
(.693,4.61,.51,.89),(.70,4.594,.52,.89),(.709,4.60,.53,.90),(.716,4.596,.55,.90),(.486,4.587,.30,.70),(.509,4.583,.32,.73),
(.587,4.583,.40,.80),(.603,4.579,.42,.82),(.601,4.563,.41,.82),(.651,4.576,.47,.86),(.684,4.575,.50,.89),(.695,4.568,.52,.90),
(.704,4.569,.53,.90),(.758,4.584,.60,.92),(.813,4.578,.67,.94),(.718,4.561,.54,.91),(.727,4.563,.55,.90),(.479,4.55,.29,.69),
(.518,4.549,.33,.73),(.615,4.556,.43,.84),(.626,4.556,.44,.84),(.633,4.544,.45,.85),(.647,4.543,.46,.86),(.677,4.55,.49,.88),
(.693,4.55,.51,.89),(.679,4.537,.49,.89),(.496,4.532,.30,.71),(.502,4.522,.31,.72),(.514,4.522,.32,.73),(.555,4.524,.36,.77),
(.567,4.528,.38,.78),(.58,4.524,.39,.80),(.608,4.528,.42,.83),(.618,4.528,.43,.84),(.703,4.523,.52,.88),(.486,4.508,.29,.70),
(.50,4.506,.30,.72),(.601,4.505,.41,.82),(.626,4.512,.43,.82),(.634,4.50,.44,.83),(.648,4.513,.45,.84),(.679,4.509,.50,.86),
(.665,4.487,.47,.82),(.667,4.474,.46,.86),(.476,4.469,.27,.70),(.611,4.46,.41,.78),(.483,4.448,.28,.70),(.516,4.443,.31,.70),
(.523,4.443,.32,.72),(.601,4.434,.39,.78),(.628,4.437,.42,.80),(.704,4.434,.48,.81),(.655,4.425,.44,.80),(.666,4.413,.45,.80),
(.622,4.41,.40,.77),(.473,4.41,.25,.70),(.57,4.402,.36,.77),(.556,4.382,.33,.70),(.479,4.376,.26,.64),(.332,4.565,.14,.52),
(.381,4.57,.18,.58),(.354,4.614,.17,.55),(.307,4.786,.15,.47),(.339,4.84,.18,.50),(.371,4.845,.22,.52),(.339,4.796,.18,.50),
(.369,4.811,.21,.53),(.385,4.811,.23,.55),(.353,4.78,.19,.52),(.369,4.755,.20,.54),(.378,4.956,.27,.49),(.422,4.953,.31,.54),
(.426,4.969,.33,.52),(.44,4.962,.34,.54),(.491,4.933,.37,.61),(.496,4.911,.37,.62),(.424,4.891,.29,.56),(.403,4.873,.27,.55),
(.403,4.868,.27,.55),(.481,4.886,.35,.62),(.472,4.871,.33,.61),(.497,4.883,.36,.63),(.433,4.85,.28,.59),(.449,4.837,.30,.60),
(.42,4.829,.27,.58),(.463,4.811,.30,.63),(.403,4.796,.24,.57),(.431,4.796,.26,.60),(.42,4.775,.25,.60),(.445,4.775,.28,.62),
(.39,4.757,.22,.57),(.378,4.729,.20,.56),(.399,4.711,.22,.58),(.422,4.703,.24,.60),(.445,4.718,.27,.63),(.475,4.755,.31,.66),
(.472,4.729,.30,.66),(.475,4.692,.30,.66),(.403,4.677,.22,.59),(.429,4.656,.24,.62),(.442,4.651,.25,.64),(.47,4.669,.29,.66),
(.433,4.626,.24,.63),(.472,4.636,.28,.67),(.472,4.623,.28,.67),(.422,4.611,.23,.62),(.456,4.587,.26,.66),(.486,4.587,.30,.69),
(.509,4.584,.32,.71),(.44,4.55,.25,.64),(.436,4.537,.24,.64),(.456,4.556,.26,.66),(.479,4.55,.29,.68),(.518,4.55,.33,.72),
(.495,4.532,.30,.71),(.511,4.522,.32,.73),(.486,4.509,.29,.70),(.50,4.506,.30,.71),(.424,4.514,.22,.63),(.553,4.524,.36,.76),
(.475,4.469,.27,.69),(.482,4.448,.27,.70),(.516,4.443,.31,.71),(.472,4.41,.25,.70),(.265,4.405,.16,.31),(.214,4.388,.161,.266),
(.479,4.377,.26,.68),(.556,4.382,.33,.74),(.481,4.35,.22,.72),(.495,4.345,.248,.739),(.566,4.352,.24,.81),(.448,4.311,.219,.68),
(.457,4.306,.222,.693),(.549,4.314,.34,.759),(.483,4.292,.254,.713),(.502,4.282,.278,.726),(.51,4.259,.281,.741),(.456,4.241,.208,.703),
(.52,4.80,.36,.72),(.535,4.775,.37,.74),(.56,4.79,.39,.76),(.575,4.78,.41,.78),(.59,4.765,.43,.80),(.62,4.795,.46,.82),
(.63,4.775,.47,.83),(.665,4.78,.51,.86),(.69,4.78,.54,.88),(.57,4.755,.40,.78),(.60,4.745,.43,.81),(.615,4.735,.45,.82),
(.66,4.755,.50,.86),(.69,4.745,.53,.88),(.71,4.735,.55,.90),(.53,4.725,.36,.74),(.575,4.71,.41,.78),(.61,4.72,.45,.82),
(.625,4.705,.46,.83),(.655,4.70,.49,.85),(.68,4.705,.52,.88),(.47,4.78,.30,.67),(.46,4.76,.29,.66),(.46,4.735,.28,.66),
(.455,4.705,.27,.65),(.51,4.76,.34,.71),(.545,4.73,.38,.75),(.60,4.69,.44,.81),(.63,4.665,.46,.84),(.665,4.665,.50,.86),
(.565,4.825,.41,.76),(.58,4.835,.42,.77),(.60,4.84,.44,.79),(.665,4.82,.51,.86),(.695,4.825,.55,.87),(.525,4.835,.37,.72),
(.62,4.812,.46,.81),(.655,4.80,.50,.85),(.57,4.81,.41,.76),(.60,4.80,.44,.80),(.46,4.82,.30,.64),(.48,4.80,.32,.67),
(.56,4.64,.38,.77),(.50,4.65,.32,.71),(.55,4.62,.36,.76),(.58,4.60,.39,.80),(.62,4.59,.44,.83),(.67,4.59,.49,.87),
(.535,4.57,.35,.74),(.56,4.56,.37,.77),(.60,4.54,.41,.82),(.645,4.56,.46,.85),(.66,4.53,.47,.87),(.54,4.515,.34,.75),
]
B_YELLOW = [
(.078,4.975,.05,.11),(.087,4.972,.06,.12),(.073,4.957,.05,.10),(.087,4.938,.06,.12),(.092,4.925,.07,.13),(.119,4.92,.09,.15),
(.032,4.94,.01,.06),(.055,4.942,.03,.09),(.064,4.916,.03,.10),(.078,4.908,.04,.11),(.082,4.892,.05,.12),(.119,4.883,.09,.15),
(.055,4.868,.03,.09),(.073,4.868,.04,.11),(.096,4.853,.06,.13),(.115,4.848,.08,.15),(.073,4.837,.03,.11),(.101,4.832,.06,.14),
(.124,4.829,.09,.16),(.138,4.817,.10,.17),(.078,4.806,.04,.11),(.101,4.811,.06,.14),(.119,4.801,.08,.15),(.151,4.786,.12,.19),
(.078,4.78,.04,.12),(.096,4.775,.06,.13),(.119,4.775,.08,.16),(.138,4.77,.10,.17),(.069,4.755,.03,.11),(.092,4.749,.05,.13),
(.115,4.749,.07,.15),(.133,4.755,.09,.17),(.064,4.729,.03,.10),(.078,4.718,.04,.11),(.115,4.729,.07,.15),(.128,4.713,.09,.17),
(.06,4.692,.02,.10),(.073,4.687,.04,.11),(.096,4.692,.05,.14),(.119,4.692,.08,.16),(.133,4.703,.09,.17),(.055,4.666,.02,.09),
(.073,4.666,.03,.11),(.101,4.662,.05,.14),(.128,4.677,.09,.17),(.05,4.651,.01,.09),(.069,4.641,.03,.11),(.092,4.636,.05,.13),
(.115,4.641,.07,.15),(.133,4.646,.09,.17),(.06,4.615,.02,.10),(.087,4.615,.04,.13),(.115,4.615,.07,.15),(.128,4.61,.09,.17),
(.064,4.594,.02,.10),(.087,4.589,.04,.13),(.11,4.594,.07,.15),(.142,4.579,.10,.18),(.073,4.568,.03,.11),(.096,4.568,.05,.14),
(.119,4.568,.08,.16),(.151,4.55,.11,.19),(.078,4.548,.03,.12),(.105,4.543,.06,.14),(.128,4.553,.09,.17),(.087,4.522,.04,.13),
(.11,4.527,.07,.15),(.14,4.525,.10,.18),(.142,4.506,.11,.18),(.087,4.506,.03,.13),(.096,4.501,.05,.14),(.119,4.509,.08,.16),
(.143,4.485,.11,.18),(.102,4.474,.06,.14),(.14,4.469,.10,.18),(.117,4.46,.08,.16),(.126,4.449,.09,.16),(.105,4.434,.07,.15),
(.156,4.444,.12,.19),(.165,4.434,.13,.20),(.128,4.418,.09,.16),(.107,4.408,.07,.14),(.09,4.405,.05,.13),(.089,4.387,.05,.12),
(.103,4.382,.07,.14),(.122,4.377,.08,.16),(.113,4.35,.07,.17),(.122,4.352,.08,.17),(.131,4.345,.09,.17),(.119,4.307,.08,.16),
(.127,4.314,.09,.17),(.141,4.31,.10,.18),(.106,4.292,.06,.16),(.11,4.282,.067,.17),(.142,4.259,.11,.187),(.143,4.241,.10,.18),
(.09,4.855,.05,.12),(.105,4.84,.07,.14),(.085,4.825,.05,.12),(.112,4.82,.08,.15),(.09,4.795,.05,.13),(.108,4.79,.07,.14),
(.125,4.79,.09,.16),(.142,4.795,.11,.18),(.085,4.765,.04,.12),(.105,4.765,.07,.14),(.125,4.762,.09,.16),(.145,4.76,.11,.18),
(.08,4.74,.04,.12),(.10,4.738,.06,.14),(.125,4.74,.09,.16),(.09,4.72,.05,.13),(.105,4.715,.07,.14),(.14,4.73,.10,.18),
(.07,4.705,.03,.11),(.085,4.705,.05,.12),(.105,4.705,.07,.14),(.07,4.675,.03,.11),(.085,4.675,.05,.12),(.11,4.675,.07,.15),
(.08,4.652,.04,.12),(.10,4.648,.06,.14),(.125,4.655,.09,.16),(.07,4.628,.03,.11),(.09,4.625,.05,.13),(.105,4.625,.07,.14),
(.135,4.625,.10,.17),(.075,4.605,.03,.11),(.10,4.605,.06,.14),(.125,4.595,.09,.16),(.08,4.58,.04,.12),(.105,4.58,.07,.14),
(.13,4.575,.09,.17),(.085,4.56,.04,.12),(.11,4.558,.07,.15),(.135,4.56,.10,.17),(.095,4.535,.05,.13),(.12,4.535,.08,.16),
(.085,4.535,.04,.12),(.10,4.515,.06,.14),(.13,4.515,.09,.17),
]
B_GRAY = [
(.034,4.977,.03,.04),(.01,4.957,.00,.02),(.02,4.953,.01,.03),(.034,4.947,.02,.04),(.101,4.963,.09,.13),(.103,4.952,.09,.13),
(.005,4.935,.00,.01),(.015,4.94,.00,.03),(.068,4.935,.06,.08),(.002,4.92,.00,.01),(.012,4.915,.00,.03),(.05,4.915,.04,.06),
(.06,4.91,.05,.07),(.018,4.905,.01,.03),(.035,4.9,.02,.05),(.082,4.892,.07,.10),(.002,4.89,.00,.01),(.015,4.885,.00,.03),
(.04,4.885,.03,.05),(.06,4.875,.05,.07),(.05,4.87,.04,.06),(.005,4.87,.00,.02),(.02,4.865,.01,.03),(.035,4.86,.02,.05),
(.06,4.85,.05,.07),(.075,4.85,.06,.09),(.102,4.84,.09,.11),(.005,4.845,.00,.02),(.025,4.845,.01,.04),(.045,4.845,.03,.06),
(.065,4.835,.05,.08),(.01,4.83,.00,.02),(.03,4.83,.02,.04),(.05,4.825,.04,.06),(.065,4.82,.05,.08),(.005,4.815,.00,.02),
(.02,4.815,.01,.03),(.04,4.81,.03,.05),(.06,4.808,.05,.07),(.075,4.805,.06,.09),(.01,4.8,.00,.02),(.03,4.797,.02,.04),
(.05,4.795,.04,.06),(.068,4.79,.05,.08),(.098,4.79,.08,.11),(.005,4.785,.00,.02),(.02,4.78,.01,.03),(.04,4.78,.03,.05),
(.06,4.775,.05,.07),(.065,4.765,.05,.08),(.01,4.765,.00,.02),(.03,4.765,.02,.04),(.05,4.76,.04,.06),(.005,4.75,.00,.02),
(.02,4.75,.01,.03),(.04,4.748,.03,.05),(.06,4.75,.05,.07),(.012,4.735,.00,.03),(.03,4.735,.02,.04),(.05,4.733,.04,.06),
(.06,4.73,.05,.07),(.005,4.72,.00,.02),(.02,4.72,.01,.03),(.04,4.718,.03,.05),(.052,4.72,.04,.06),(.012,4.705,.00,.03),
(.03,4.7,.02,.04),(.045,4.705,.03,.06),(.005,4.69,.00,.02),(.02,4.685,.01,.03),(.038,4.688,.03,.05),(.025,4.67,.01,.04),
(.01,4.67,.00,.02),(.02,4.655,.01,.03),(.005,4.65,.00,.02),(.012,4.635,.00,.03),(.005,4.62,.00,.01),(.034,4.61,.03,.04),
(.005,4.6,.00,.01),(.002,4.58,.00,.01),(.01,4.575,.00,.02),(.012,4.56,.00,.03),(.012,4.545,.00,.03),(.002,4.53,.00,.01),
(.002,4.51,.00,.01),(.004,4.49,.00,.01),(.002,4.47,.00,.01),(.005,4.45,.00,.01),(.003,4.43,.00,.01),(.002,4.41,.00,.01),
(.006,4.385,.00,.01),(.005,4.36,.00,.01),(.003,4.35,.00,.01),(.002,4.33,.00,.01),(.003,4.31,.00,.01),(.002,4.292,.00,.01),
(.002,4.282,.00,.01),(.002,4.259,.00,.01),(.002,4.241,.00,.01),
(.012,4.845,.00,.03),(.035,4.84,.02,.05),(.055,4.84,.04,.07),(.04,4.825,.03,.05),(.058,4.83,.05,.07),(.012,4.805,.00,.03),
(.03,4.81,.02,.04),(.05,4.81,.04,.06),(.068,4.805,.06,.08),(.012,4.79,.00,.03),(.04,4.795,.03,.05),(.06,4.79,.05,.07),
(.012,4.775,.00,.03),(.03,4.78,.02,.04),(.05,4.775,.04,.06),(.07,4.775,.06,.08),(.012,4.76,.00,.03),(.04,4.765,.03,.05),
(.06,4.76,.05,.07),(.012,4.74,.00,.03),(.03,4.75,.02,.04),(.05,4.745,.04,.06),(.04,4.73,.03,.05),(.06,4.74,.05,.07),
(.03,4.715,.02,.04),(.05,4.705,.04,.06),(.012,4.695,.00,.03),(.03,4.685,.02,.04),(.045,4.69,.03,.06),(.012,4.68,.00,.03),
(.035,4.67,.02,.05),(.012,4.66,.00,.03),(.025,4.655,.01,.04),(.012,4.645,.00,.03),(.02,4.64,.01,.03),(.03,4.88,.02,.04),
(.012,4.9,.00,.03),(.03,4.915,.02,.04),(.045,4.93,.03,.06),(.028,4.93,.02,.04),(.012,4.93,.00,.03),(.05,4.895,.04,.06),
(.025,4.875,.01,.04),(.012,4.86,.00,.03),(.045,4.86,.03,.06),
]

AXIS = dict(labelFont=FONT, labelFontSize=42.5, labelColor=DARK, titleFont=FONT, titleFontSize=44.5,
            titleColor=DARK, titleFontWeight="normal", tickColor=DARK, tickWidth=3, tickSize=15,
            domain=False, grid=False, labelPadding=8, labelFlush=False, labelOverlap=False)
NO_VIEW = alt.ViewBackground(stroke=None)


def hist_panel(gray, yellow, blue, brown, ymax, yticks, width, height):
    rows = []
    for name, counts in (("gray", gray), ("yellow", yellow), ("blue", blue), ("brown", brown)):
        for i, c in enumerate(counts):
            if c > 0:
                rows.append(dict(s=name, lo=i / 15, hi=(i + 1) / 15, n=c, zero=0))
    return alt.Chart(pd.DataFrame(rows)).mark_rect(opacity=0.47).encode(
        x=alt.X("lo:Q", scale=alt.Scale(domain=[0, 1], nice=False),
                axis=alt.Axis(values=MASS_TICKS, labels=False, title=None, **AXIS)),
        x2="hi:Q",
        y=alt.Y("n:Q", scale=alt.Scale(domain=[0, ymax], nice=False),
                axis=alt.Axis(values=yticks, title=None, format="d", **AXIS)),
        y2="zero:Q",
        color=alt.Color("s:N", legend=None, scale=alt.Scale(domain=list(COLORS), range=list(COLORS.values()))),
    ).properties(width=width, height=height)


def label_layers(pieces):
    out = []
    for txt, x, y, size, style in pieces:
        out.append(alt.Chart(pd.DataFrame({"t": [txt]})).mark_text(
            font=FONT, fontSize=size, fontStyle=style, color=DARK, angle=270, align="left", baseline="alphabetic"
        ).encode(text="t:N", x=alt.value(x), y=alt.value(y)))
    return out


YLABEL = [("Core temperature log", -116, 781, 44.5, "normal"), ("10", -108, 301, 31, "normal"),
          ("T", -116, 246, 44.5, "italic"), ("c", -108, 214, 31, "italic"),
          ("[log", -116, 186, 44.5, "normal"), ("10", -108, 99, 31, "normal"), ("K]", -116, 48, 44.5, "normal")]


def scatter_panel(series, width, height):
    rows = []
    for name, pts in series:
        for x, y, lo, hi in pts:
            rows.append(dict(s=name, x=x, y=y, lo=lo, hi=hi))
    base = alt.Chart(pd.DataFrame(rows))
    color = alt.Color("s:N", legend=None, scale=alt.Scale(domain=list(COLORS), range=list(COLORS.values())))
    xscale = alt.Scale(domain=[0, 1], nice=False)
    xaxis = alt.Axis(values=MASS_TICKS, format=".1f", title="Mass fraction", titlePadding=18, **AXIS)
    ys = alt.Y("y:Q", scale=alt.Scale(domain=[3.8, 5.0], nice=False),
               axis=alt.Axis(values=TEMP_TICKS, format=".1f", title=None, **AXIS))
    rule = base.mark_rule(clip=True, strokeWidth=1.6, opacity=0.4).encode(
        x=alt.X("lo:Q", scale=xscale, axis=xaxis), x2="hi:Q", y=ys, color=color)
    cap_lo = base.mark_tick(clip=True, orient="vertical", size=9, thickness=1.6, opacity=0.75).encode(
        x=alt.X("lo:Q", scale=xscale, axis=xaxis), y=ys, color=color)
    cap_hi = base.mark_tick(clip=True, orient="vertical", size=9, thickness=1.6, opacity=0.75).encode(
        x=alt.X("hi:Q", scale=xscale, axis=xaxis), y=ys, color=color)
    dots = base.mark_circle(clip=True, size=175, opacity=1).encode(
        x=alt.X("x:Q", scale=xscale, axis=xaxis), y=ys, color=color)
    return alt.layer(rule, cap_lo, cap_hi, dots, *label_layers(YLABEL)).properties(width=width, height=height)


def temp_panel(counts, xmax, xticks, width, height, last_label=None):
    rows = [dict(n=c, zero=0, top=5.0 - 0.08 * i, bot=5.0 - 0.08 * (i + 1)) for i, c in enumerate(counts)]
    bars = alt.Chart(pd.DataFrame(rows)).mark_rect(color="#edbfa5", stroke="#e9b89c", strokeWidth=0.6).encode(
        x=alt.X("n:Q", scale=alt.Scale(domain=[0, xmax], nice=False),
                axis=alt.Axis(values=xticks, format="d", title=None,
                              labelExpr="datum.value == 100 ? '' : datum.label", **AXIS)),
        x2="zero:Q",
        y=alt.Y("top:Q", scale=alt.Scale(domain=[3.8, 5.0], nice=False),
                axis=alt.Axis(values=TEMP_TICKS, labels=False, title=None, **AXIS)),
        y2="bot:Q",
    )
    if last_label is None:
        return bars.properties(width=width, height=height)
    txt = alt.Chart(pd.DataFrame({"t": [last_label]})).mark_text(
        font=FONT, fontSize=42.5, color=DARK, align="right", baseline="alphabetic"
    ).encode(text="t:N", x=alt.value(188), y=alt.value(828))
    return alt.layer(bars, txt).properties(width=width, height=height)


def name_panel(sub, ux, uy, sx, sy, height, subsize):
    u = alt.Chart(pd.DataFrame({"t": ["U"]})).mark_text(
        font=FONT, fontSize=57, color=DARK, align="left", baseline="alphabetic"
    ).encode(text="t:N", x=alt.value(ux), y=alt.value(uy))
    s = alt.Chart(pd.DataFrame({"t": [sub]})).mark_text(
        font=FONT, fontSize=subsize, color=DARK, align="left", baseline="alphabetic"
    ).encode(text="t:N", x=alt.value(sx), y=alt.value(sy))
    return alt.layer(u, s).properties(width=180, height=height, view=NO_VIEW)


def spacer(width, height):
    return alt.Chart(pd.DataFrame({"t": [""]})).mark_text().encode(text="t:N").properties(
        width=width, height=height, view=NO_VIEW)


panels = [
    hist_panel(A_HIST_GRAY, A_HIST_YELLOW, A_HIST_BLUE, A_HIST_BROWN, 358, [0, 200], 735, 188),
    name_panel("3, comp", -6, 103.5, 36, 110.5, 188, 36),
    spacer(735, 104.5), spacer(180, 104.5),
    scatter_panel([("blue", A_BLUE), ("yellow", A_YELLOW), ("brown", A_BROWN), ("gray", A_GRAY)], 735, 774),
    temp_panel(A_TEMP_COUNTS, 43.27, [0, 25], 180, 774),
    spacer(735, 171), spacer(180, 171),
    hist_panel(B_HIST_GRAY, B_HIST_YELLOW, B_HIST_BLUE, B_HIST_BROWN, 427, [0, 250], 727, 193),
    name_panel("4, comp", -7, 108, 35, 115, 193, 37),
    spacer(727, 105), spacer(180, 105),
    scatter_panel([("gray", B_GRAY), ("yellow", B_YELLOW), ("blue", B_BLUE), ("brown", B_BROWN)], 727, 775),
    temp_panel(B_TEMP_COUNTS, 116, [0, 100], 182, 775, "100"),
]
chart = alt.concat(*panels, columns=2, bounds="flush", align="none", spacing={"row": 0, "column": 113}).configure_view(
    stroke=DARK, strokeWidth=3
).properties(background="white", padding={"left": 0, "top": 0, "right": 0, "bottom": 0})

chart.save("out.html", embed_options={"renderer": "svg", "actions": False})
